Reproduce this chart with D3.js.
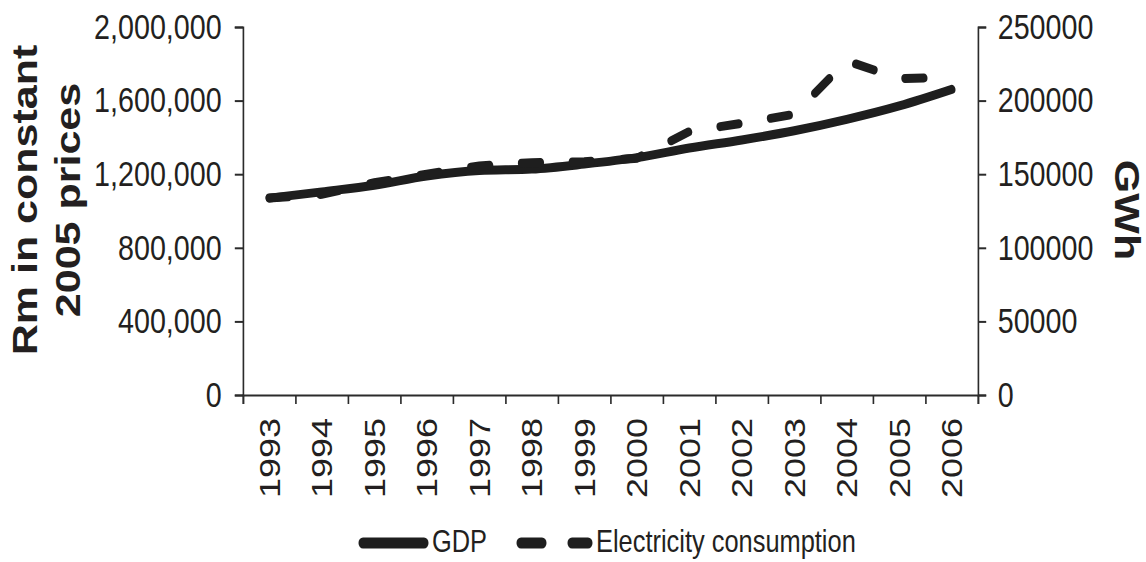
<!DOCTYPE html>
<html>
<head>
<meta charset="utf-8">
<script src="https://cdn.jsdelivr.net/npm/d3@7/dist/d3.min.js"></script>
<style>
	html, body { margin: 0; padding: 0; background: #fff; }
	svg { display: block; }
	text { font-family: "Liberation Sans", Arial, sans-serif; fill: #231f20; }
</style>
</head>
<body>
<svg id="chart"></svg>
<script>
// data
const years = [1993, 1994, 1995, 1996, 1997, 1998, 1999, 2000, 2001, 2002, 2003, 2004, 2005, 2006];
const gdpValues = [1070000, 1104000, 1140000, 1190000, 1220000, 1228000, 1255000, 1290000, 1342000, 1386000, 1436000, 1498000, 1571000, 1661000];
const electricityValues = [133800, 136300, 144200, 150000, 155600, 157800, 158500, 160800, 179000, 184600, 190700, 227000, 215000, 215800];
const leftTicks = [0, 400000, 800000, 1200000, 1600000, 2000000];
const rightTicks = [0, 50000, 100000, 150000, 200000, 250000];
const legendLabels = ['GDP', 'Electricity consumption'];

// the reference is squeezed horizontally, so draw in a wider box and let the viewBox squash it
const SX = 0.82;
const pageWidth = 1146, pageHeight = 562;
const boxWidth = pageWidth / SX;
const sx = function(v) { return v / SX; };

const plotLeft = sx(243), plotRight = sx(978), plotTop = 27, plotBottom = 395;
const ink = '#1e1e1e';
const axisInk = '#2b2b2b';

let svg = d3.select('#chart')
	.attr('width', pageWidth)
	.attr('height', pageHeight)
	.attr('viewBox', '0 0 ' + boxWidth + ' ' + pageHeight)
	.attr('preserveAspectRatio', 'none');

let xBand = d3.scaleBand()
	.domain(years)
	.range([ plotLeft, plotRight ]);
let xEdge = d3.scaleLinear()
	.domain([ 0, years.length ])
	.range([ plotLeft, plotRight ]);
let yLeft = d3.scaleLinear()
	.domain([ 0, 2000000 ])
	.range([ plotBottom, plotTop ]);
let yRight = d3.scaleLinear()
	.domain([ 0, 250000 ])
	.range([ plotBottom, plotTop ]);
let xCenter = function(year) { return xBand(year) + xBand.bandwidth() / 2; };

// axes
let leftAxis = svg.append('g')
	.attr('transform', 'translate(' + plotLeft + ',0)')
	.call(d3.axisLeft(yLeft).tickValues(leftTicks).tickFormat(d3.format(',')).tickSize(10).tickPadding(16));
let rightAxis = svg.append('g')
	.attr('transform', 'translate(' + plotRight + ',0)')
	.call(d3.axisRight(yRight).tickValues(rightTicks).tickFormat(d3.format('d')).tickSize(10).tickPadding(14));
let bottomAxis = svg.append('g')
	.attr('transform', 'translate(0,' + plotBottom + ')')
	.call(d3.axisBottom(xEdge).tickValues(d3.range(years.length + 1)).tickFormat('').tickSize(9));

[ leftAxis, rightAxis, bottomAxis ].forEach(function(axis) {
	axis.select('.domain').attr('stroke', axisInk).attr('stroke-width', 2);
	axis.selectAll('.tick line').attr('stroke', axisInk).attr('stroke-width', 2);
	axis.selectAll('.tick text')
		.style('font-size', '35px')
		.style('font-family', '"Liberation Sans", Arial, sans-serif')
		.attr('fill', '#231f20');
});

// year labels, rotated
svg.append('g')
	.selectAll('text')
	.data(years)
	.join('text')
	.attr('x', function(d) { return xCenter(d); })
	.attr('y', 418)
	.attr('dy', '0.35em')
	.attr('text-anchor', 'end')
	.attr('transform', function(d) { return 'rotate(-90,' + xCenter(d) + ',418)'; })
	.style('font-size', '36px')
	.text(function(d) { return d; });

// axis titles
let leftTitle = svg.append('text')
	.attr('transform', 'translate(' + sx(37) + ',200) rotate(-90)')
	.attr('text-anchor', 'middle')
	.style('font-size', '43px')
	.style('font-weight', 'bold');
leftTitle.append('tspan').attr('x', 0).attr('y', 0).text('Rm in constant');
leftTitle.append('tspan').attr('x', 0).attr('y', sx(43)).text('2005 prices');

svg.append('text')
	.attr('transform', 'translate(' + sx(1115) + ',210) rotate(90)')
	.attr('text-anchor', 'middle')
	.style('font-size', '43px')
	.style('font-weight', 'bold')
	.text('GWh');

// series
let gdpLine = d3.line()
	.x(function(d, i) { return xCenter(years[i]); })
	.y(function(d) { return yLeft(d); })
	.curve(d3.curveMonotoneX);
let electricityLine = d3.line()
	.x(function(d, i) { return xCenter(years[i]); })
	.y(function(d) { return yRight(d); });

svg.append('path')
	.datum(gdpValues)
	.attr('d', gdpLine)
	.attr('fill', 'none')
	.attr('stroke', ink)
	.attr('stroke-width', 9)
	.attr('stroke-linecap', 'round');
svg.append('path')
	.datum(electricityValues)
	.attr('d', electricityLine)
	.attr('fill', 'none')
	.attr('stroke', ink)
	.attr('stroke-width', 9)
	.attr('stroke-linecap', 'round')
	.attr('stroke-dasharray', '23 39');

// legend
let legend = svg.append('g');
legend.append('line')
	.attr('x1', sx(363)).attr('x2', sx(424))
	.attr('y1', 543).attr('y2', 543)
	.attr('stroke', ink).attr('stroke-width', 11).attr('stroke-linecap', 'round');
legend.append('text')
	.attr('x', sx(432)).attr('y', 552)
	.style('font-size', '31px')
	.text(legendLabels[0]);
[ [ 521, 542 ], [ 572, 588 ] ].forEach(function(seg) {
	legend.append('line')
		.attr('x1', sx(seg[0])).attr('x2', sx(seg[1]))
		.attr('y1', 543).attr('y2', 543)
		.attr('stroke', ink).attr('stroke-width', 11).attr('stroke-linecap', 'round');
});
legend.append('text')
	.attr('x', sx(596)).attr('y', 552)
	.style('font-size', '31px')
	.text(legendLabels[1]);
</script>
</body>
</html>
